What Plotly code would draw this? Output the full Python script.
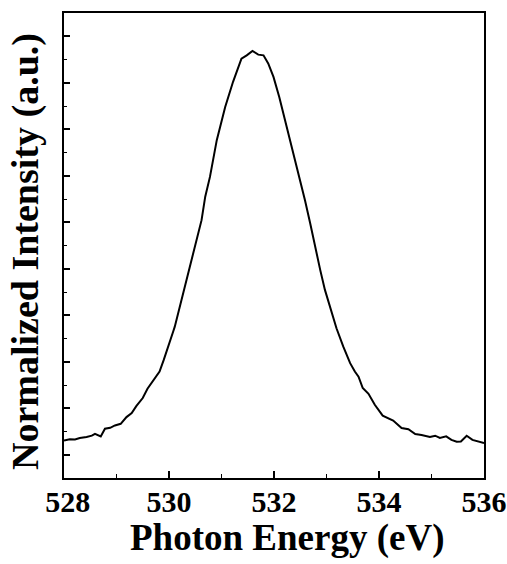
import plotly.graph_objects as go

energy = [528.0, 528.11, 528.21, 528.30, 528.43, 528.53, 528.59, 528.63, 528.70, 528.78,
          528.88, 528.97, 529.08, 529.19, 529.29, 529.38, 529.50, 529.59, 529.70, 529.82,
          529.90, 529.99, 530.08, 530.11, 530.27, 530.40, 530.53, 530.62, 530.69, 530.78,
          530.91, 531.07, 531.22, 531.38, 531.48, 531.59, 531.70, 531.80, 531.89, 531.99,
          532.10, 532.30, 532.50, 532.59, 532.69, 532.78, 532.88, 532.97, 533.07, 533.19,
          533.32, 533.45, 533.54, 533.61, 533.69, 533.80, 533.92, 534.07, 534.27, 534.43,
          534.56, 534.69, 534.81, 534.97, 535.07, 535.16, 535.28, 535.38, 535.48, 535.56,
          535.67, 535.78, 536.0]
intensity = [0.61, 0.67, 0.66, 0.72, 0.76, 0.82, 0.90, 0.85, 0.79, 1.12,
             1.16, 1.26, 1.33, 1.62, 1.79, 2.10, 2.44, 2.84, 3.18, 3.58,
             4.08, 4.65, 5.30, 5.51, 6.95, 8.23, 9.31, 10.09, 11.10, 11.95,
             13.53, 14.96, 16.04, 17.04, 17.18, 17.37, 17.21, 17.18, 16.83, 16.25,
             15.39, 13.60, 11.81, 10.95, 9.95, 8.95, 7.95, 7.09, 6.30, 5.44,
             4.65, 3.94, 3.58, 3.36, 2.87, 2.62, 2.15, 1.68, 1.47, 1.15,
             1.10, 0.89, 0.85, 0.76, 0.82, 0.72, 0.79, 0.64, 0.56, 0.57,
             0.82, 0.64, 0.50]

x_tickvals = [528, 530, 532, 534, 536]
x_ticktext = ["\u00a0<b>528</b>", "<b>530</b>", "<b>532</b>", "<b>534</b>", "<b>536</b>"]
x_title = "Photon Energy (eV)"
y_title = "Normalized Intensity (a.u.)"

font_family = "Liberation Serif"

fig = go.Figure()
fig.add_trace(go.Scatter(x=energy, y=intensity, mode="lines",
                         line=dict(color="black", width=2), showlegend=False))

fig.update_layout(
    width=507, height=564,
    margin=dict(l=64, r=23, t=13, b=86, autoexpand=False),
    paper_bgcolor="white", plot_bgcolor="white",
    font=dict(family=font_family, color="black"),
    annotations=[
        dict(text="<b>" + x_title + "</b>", xref="paper", yref="paper",
             x=0.531, y=-0.128, xanchor="center", yanchor="middle",
             showarrow=False, font=dict(family=font_family, size=37, color="black")),
        dict(text="<b>" + y_title + "</b>", xref="paper", yref="paper",
             x=-0.093, y=0.488, xanchor="center", yanchor="middle", textangle=-90,
             showarrow=False, font=dict(family=font_family, size=38, color="black")),
    ],
)
fig.update_xaxes(
    range=[528, 536], tickvals=x_tickvals, ticktext=x_ticktext,
    ticks="inside", ticklen=7, tickwidth=1.5, tickcolor="black",
    minor=dict(dtick=1, tick0=528, ticks="inside", ticklen=4, tickwidth=1, tickcolor="black"),
    showline=True, linecolor="black", linewidth=1.5, mirror=True,
    showgrid=False, zeroline=False, automargin=False,
    ticklabeloverflow="allow", ticklabelstandoff=-4,
    tickfont=dict(family=font_family, size=30),
)
fig.update_yaxes(
    range=[-1, 19], tick0=0, dtick=2, showticklabels=False,
    ticks="inside", ticklen=6, tickwidth=1.5, tickcolor="black",
    minor=dict(dtick=1, tick0=0, ticks="inside", ticklen=3, tickwidth=1, tickcolor="black"),
    showline=True, linecolor="black", linewidth=1.5, mirror=True,
    showgrid=False, zeroline=False, automargin=False,
)

fig.write_html("out.html", config={"displayModeBar": False},
               post_script="document.body.style.margin='0';")
